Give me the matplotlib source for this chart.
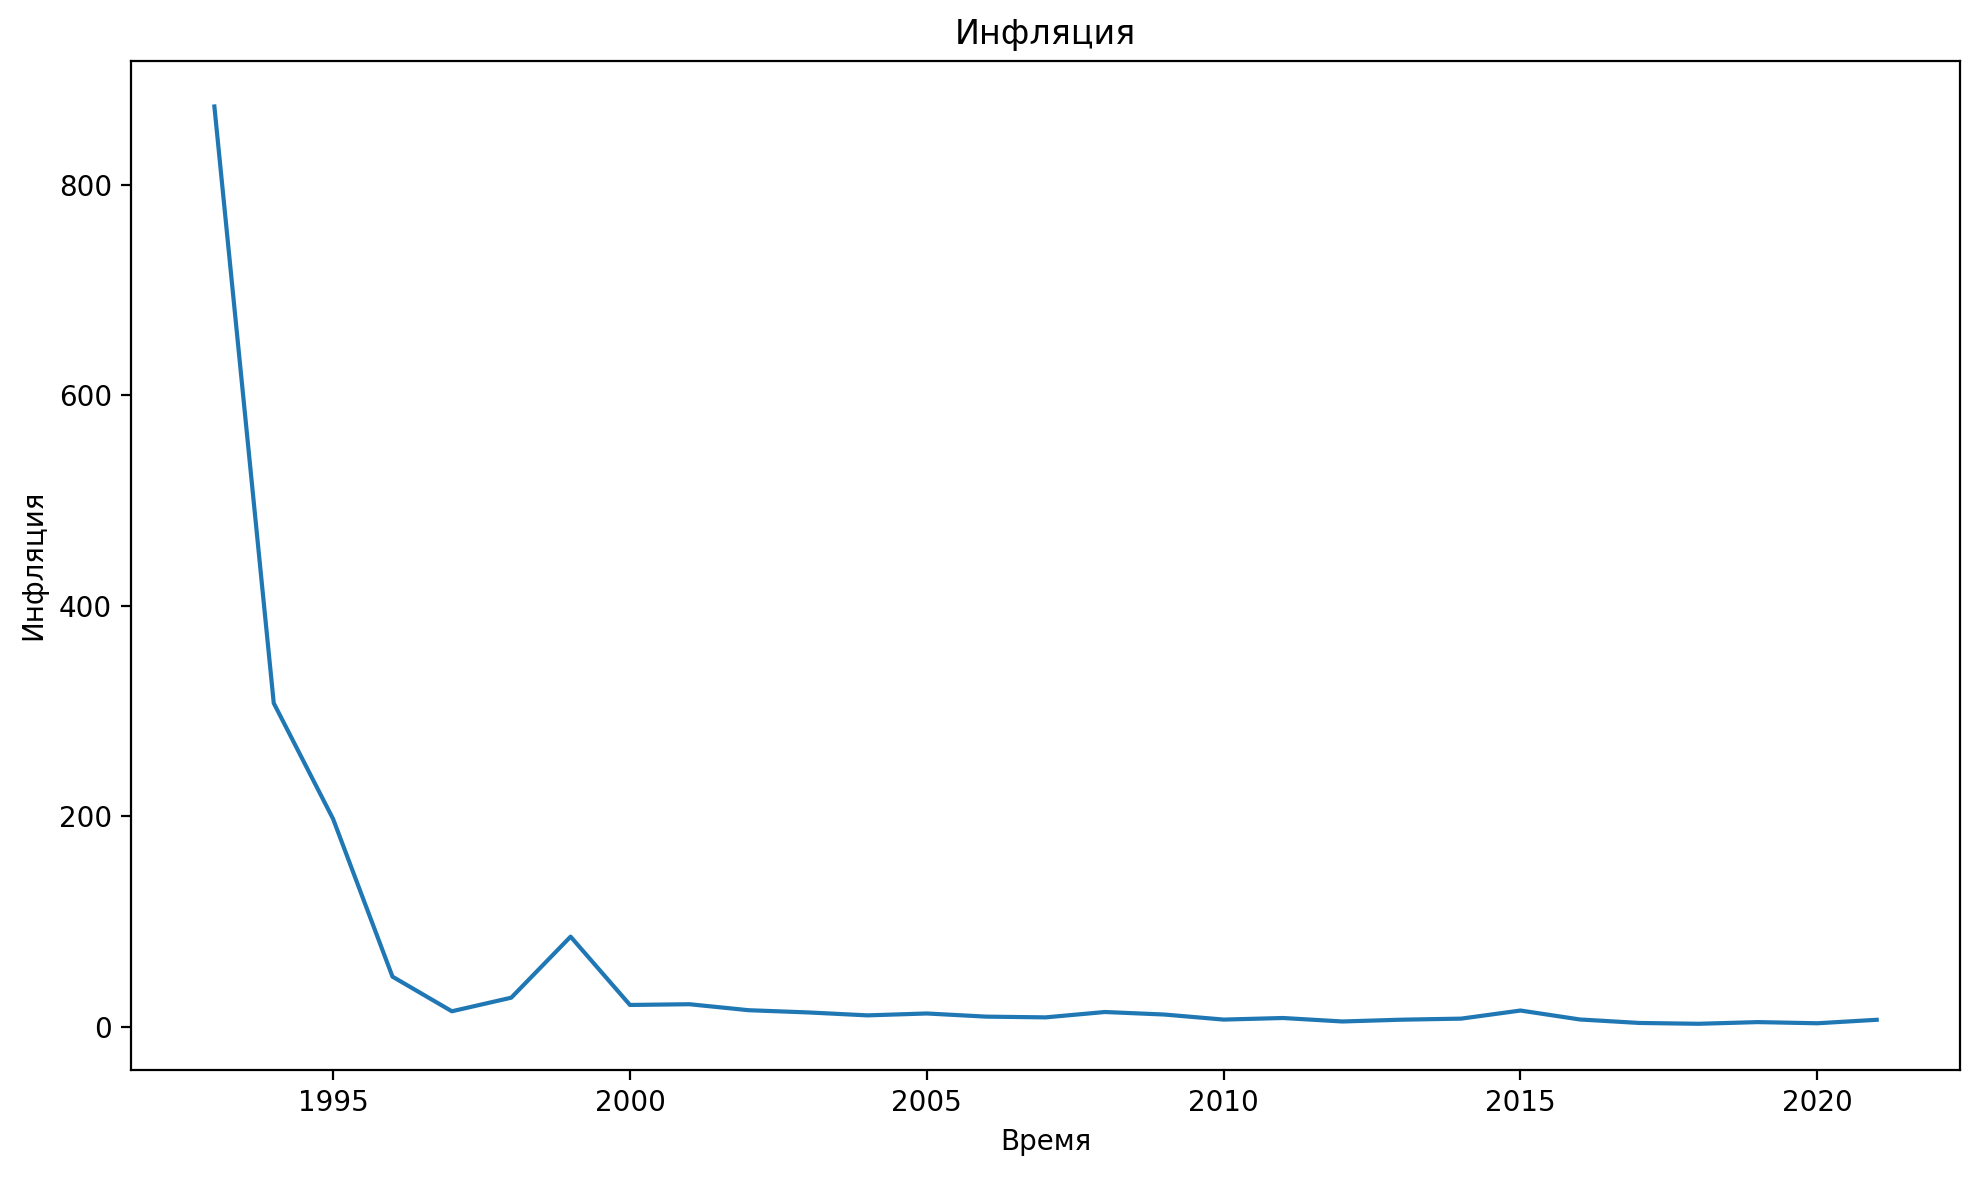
import matplotlib
matplotlib.use("Agg")
import matplotlib.pyplot as plt

# Годовая инфляция, %
years = [1993, 1994, 1995, 1996, 1997, 1998, 1999, 2000, 2001, 2002,
         2003, 2004, 2005, 2006, 2007, 2008, 2009, 2010, 2011, 2012,
         2013, 2014, 2015, 2016, 2017, 2018, 2019, 2020, 2021]
inflation = [874.6, 307.6, 197.5, 47.7, 14.8, 27.7, 85.7, 20.8, 21.5, 15.8,
             13.7, 10.9, 12.7, 9.7, 9.0, 14.1, 11.7, 6.9, 8.4, 5.1,
             6.8, 7.8, 15.5, 7.0, 3.7, 2.9, 4.5, 3.4, 6.7]

DPI = 200
fig = plt.figure(figsize=(1980 / DPI, 1177 / DPI), dpi=DPI)
ax = fig.add_axes([0.0663, 0.0912, 0.9235, 0.8573])

ax.plot(years, inflation, color="#1f77b4", lw=1.5)
ax.set_title("Инфляция")
ax.set_xlabel("Время")
ax.set_ylabel("Инфляция")

fig.savefig("out.png", dpi=DPI)
